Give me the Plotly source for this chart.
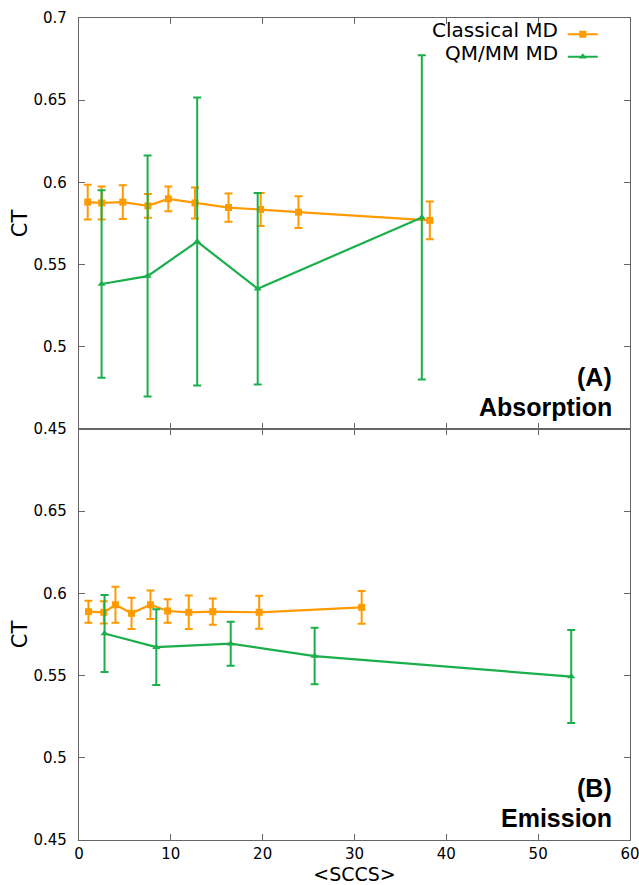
import plotly.graph_objects as go
from plotly.subplots import make_subplots

# (A) Absorption
abs_cl_x = [0.95, 2.46, 4.77, 7.5, 9.73, 12.63, 16.28, 19.78, 23.9, 38.2]
abs_cl_y = [0.588, 0.5875, 0.588, 0.5857, 0.590, 0.5875, 0.5847, 0.5835, 0.5819, 0.5769]
abs_cl_err = [0.0105, 0.010, 0.0103, 0.0072, 0.0075, 0.0094, 0.0086, 0.010, 0.0096, 0.0115]

abs_qm_x = [2.46, 7.47, 12.87, 19.46, 37.33]
abs_qm_y = [0.5382, 0.543, 0.564, 0.5353, 0.5787]
abs_qm_err = [0.0571, 0.0733, 0.0876, 0.0583, 0.0986]

# (B) Emission
emi_cl_x = [1.03, 2.7, 3.97, 5.72, 7.78, 9.65, 11.95, 14.57, 19.62, 30.78]
emi_cl_y = [0.5889, 0.5885, 0.5931, 0.5879, 0.5931, 0.5893, 0.5885, 0.5889, 0.5885, 0.5915]
emi_cl_err = [0.0067, 0.0068, 0.011, 0.0095, 0.0086, 0.0072, 0.0102, 0.008, 0.010, 0.010]

emi_qm_x = [2.78, 8.42, 16.52, 25.66, 53.6]
emi_qm_y = [0.5756, 0.5673, 0.5694, 0.5619, 0.5494]
emi_qm_err = [0.0234, 0.023, 0.0134, 0.0172, 0.0283]

series_names = ["Classical MD", "QM/MM MD"]
y_ticks = [0.45, 0.5, 0.55, 0.6, 0.65, 0.7]
y_ticktext = ["0.45", "0.5", "0.55", "0.6", "0.65", "0.7"]

orange = "#FF9A00"
green = "#1AAF4B"

fig = make_subplots(rows=2, cols=1, shared_xaxes=True, vertical_spacing=0)


def add(x, y, err, color, symbol, name, row, show):
    # legend entry has no text; the label is written beside it (text left of the sample)
    fig.add_trace(go.Scatter(
        x=x, y=y, mode="lines+markers", name="", legendgroup=name, showlegend=show,
        line=dict(color=color, width=2.2),
        marker=dict(symbol=symbol, size=7, color=color),
        error_y=dict(type="data", array=err, color=color, thickness=2, width=4),
    ), row=row, col=1)


add(abs_cl_x, abs_cl_y, abs_cl_err, orange, "square", series_names[0], 1, True)
add(abs_qm_x, abs_qm_y, abs_qm_err, green, "triangle-up", series_names[1], 1, True)
add(emi_cl_x, emi_cl_y, emi_cl_err, orange, "square", series_names[0], 2, False)
add(emi_qm_x, emi_qm_y, emi_qm_err, green, "triangle-up", series_names[1], 2, False)

axis_style = dict(showline=True, linecolor="#666666", linewidth=1.3, mirror="ticks",
                  ticks="inside", ticklen=6, tickcolor="#666666", showgrid=False,
                  zeroline=False, automargin=False, ticklabeloverflow="allow",
                  tickfont=dict(family="DejaVu Sans", size=15, color="black"))

fig.update_xaxes(range=[0, 60], dtick=10, ticklabelstandoff=0, **axis_style)
fig.update_xaxes(showticklabels=False, row=1, col=1)
fig.update_xaxes(title=dict(text="&lt;SCCS&gt;", font=dict(family="DejaVu Sans", size=19, color="black"),
                            standoff=3), row=2, col=1)

fig.update_yaxes(range=[0.45, 0.7], tickvals=y_ticks, ticklabelstandoff=8, **axis_style)
fig.update_yaxes(ticktext=y_ticktext, row=1, col=1)
fig.update_yaxes(ticktext=y_ticktext[:-1] + [""], row=2, col=1)
fig.update_yaxes(title=dict(text="CT", font=dict(family="DejaVu Sans", size=21, color="black"),
                            standoff=0))

bold = dict(family="Liberation Sans", size=25, color="black")
for txt, yref, y in [("<b>(A)</b>", "y domain", 0.1265), ("<b>Absorption</b>", "y domain", 0.0535),
                     ("<b>(B)</b>", "y2 domain", 0.127), ("<b>Emission</b>", "y2 domain", 0.0535)]:
    fig.add_annotation(text=txt, xref="x domain", yref=yref, x=0.971, y=y,
                       xanchor="right", yanchor="middle", showarrow=False, font=bold)

legend_font = dict(family="DejaVu Sans", size=20, color="black")
for name, y in zip(series_names, [0.9854, 0.9574]):
    fig.add_annotation(text=name, xref="paper", yref="paper", x=0.873, y=y,
                       xanchor="right", yanchor="middle", showarrow=False, font=legend_font)

fig.update_layout(
    width=639, height=885,
    margin=dict(l=79, r=9, t=18, b=45),
    plot_bgcolor="white", paper_bgcolor="white",
    legend=dict(x=0.878, y=1.0, xanchor="left", yanchor="top", bgcolor="rgba(0,0,0,0)",
                font=dict(family="DejaVu Sans", size=15, color="black"),
                tracegroupgap=0, itemwidth=30),
)

# drop the page's default body margin so the figure fills the window exactly
fig.write_html("out.html", config={"displayModeBar": False},
               post_script="document.body.style.margin = '0px';")
